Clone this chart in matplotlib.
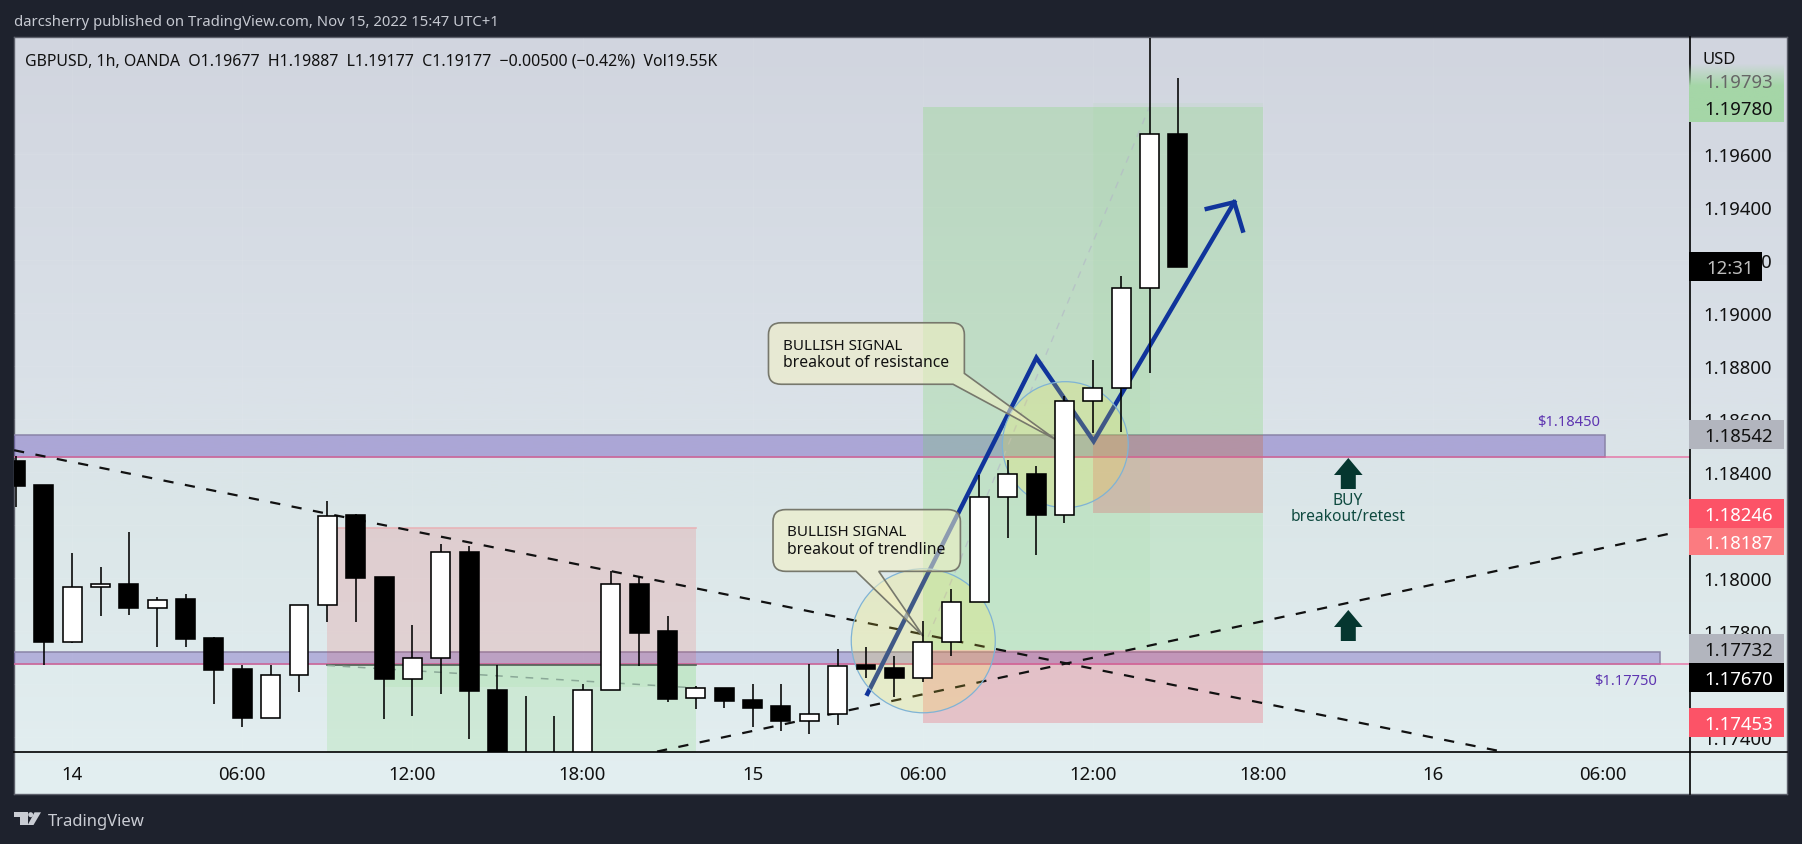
from __future__ import annotations

import matplotlib

matplotlib.use("Agg")
import matplotlib.pyplot as plt
import numpy as np
from matplotlib.colors import to_rgb
from matplotlib.patches import Ellipse, PathPatch, Polygon, Rectangle
from matplotlib.path import Path as MplPath

WIDTH, HEIGHT = 1802, 845
FONT = "Noto Sans"

# GBPUSD 1h candles, hour 0 is the "14" tick
hours = list(range(-2, 40))
opens = [1.18445, 1.18351, 1.17760, 1.17967, 1.17981, 1.17888, 1.17921, 1.17774, 1.17657, 1.17473,
         1.17635, 1.17899, 1.18238, 1.18004, 1.17620, 1.17699, 1.18101, 1.17581, 1.17300, 1.17300,
         1.17300, 1.17579, 1.17981, 1.17800, 1.17548, 1.17588, 1.17540, 1.17517, 1.17463, 1.17489,
         1.17672, 1.17664, 1.17624, 1.17761, 1.17912, 1.18308, 1.18396, 1.18240, 1.18670, 1.18720,
         1.19097, 1.19677]
highs = [1.18464, 1.18351, 1.18098, 1.18045, 1.18177, 1.17931, 1.17942, 1.17781, 1.17673, 1.17673,
         1.17901, 1.18294, 1.18242, 1.18004, 1.17826, 1.18132, 1.18122, 1.17673, 1.17558, 1.17483,
         1.17600, 1.18029, 1.18006, 1.17860, 1.17596, 1.17588, 1.17600, 1.17600, 1.17679, 1.17735,
         1.17743, 1.17706, 1.17840, 1.17962, 1.18392, 1.18449, 1.18426, 1.18688, 1.18823, 1.19143,
         1.20100, 1.19887]
lows = [1.18269, 1.17675, 1.17755, 1.17857, 1.17864, 1.17740, 1.17743, 1.17525, 1.17438, 1.17473,
        1.17570, 1.17834, 1.17834, 1.17468, 1.17483, 1.17566, 1.17396, 1.17250, 1.17250, 1.17250,
        1.17250, 1.17579, 1.17669, 1.17533, 1.17506, 1.17513, 1.17438, 1.17424, 1.17413, 1.17446,
        1.17623, 1.17551, 1.17609, 1.17706, 1.17912, 1.18151, 1.18087, 1.18209, 1.18550, 1.18552,
        1.18776, 1.19177]
closes = [1.18348, 1.17760, 1.17969, 1.17980, 1.17887, 1.17920, 1.17770, 1.17653, 1.17472, 1.17636,
          1.17901, 1.18236, 1.18000, 1.17619, 1.17701, 1.18101, 1.17577, 1.17280, 1.17280, 1.17280,
          1.17580, 1.17980, 1.17796, 1.17547, 1.17587, 1.17536, 1.17513, 1.17462, 1.17489, 1.17670,
          1.17660, 1.17623, 1.17761, 1.17912, 1.18308, 1.18395, 1.18239, 1.18670, 1.18720, 1.19097,
          1.19677, 1.19177]

time_ticks = [0, 6, 12, 18, 24, 30, 36, 42, 48, 54]
time_labels = ["14", "06:00", "12:00", "18:00", "15", "06:00", "12:00", "18:00", "16", "06:00"]
price_ticks = [1.196, 1.194, 1.192, 1.190, 1.188, 1.186, 1.184, 1.182, 1.180, 1.178, 1.176, 1.174]

# trendlines and drawn path, hour / price
trend_down_x, trend_down_y = [-2.05, 50.43], [1.18484, 1.17347]
trend_up_x, trend_up_y = [20.63, 56.64], [1.17347, 1.18176]
path_x, path_y = [28.05, 34.01, 36.03, 40.99], [1.17565, 1.18833, 1.18518, 1.19420]
head_x, head_y = [40.02, 40.99, 41.29], [1.19395, 1.19420, 1.19313]

# position tools: start, end, entry, target, stop
short_pos = (9, 22, 1.17672, 1.17250, 1.18191)
long_a = (30, 42, 1.17732, 1.19780, 1.17453)
long_b = (36, 42, 1.18542, 1.19793, 1.18246)

zone_levels = [(1.18542, 1.18457, 54.06), (1.17723, 1.17677, 56.0)]
pink_levels = [1.18457, 1.17677]

legend_text = "GBPUSD, 1h, OANDA  O1.19677  H1.19887  L1.19177  C1.19177  \u22120.00500 (\u22120.42%)  Vol19.55K"
title_text = "darcsherry published on TradingView.com, Nov 15, 2022 15:47 UTC+1"

HOUR_LEFT, HOUR_RIGHT = (14 - 72.2) / 28.35, (1690 - 72.2) / 28.35
PRICE_TOP, PRICE_BOTTOM = 1.196 + 117 / 26500, 1.196 - 597 / 26500


def _gradient(stops: list[tuple[float, str]], n: int = 256) -> np.ndarray:
    pos = [s[0] for s in stops]
    rgb = np.array([to_rgb(s[1]) for s in stops])
    t = np.linspace(0, 1, n)
    return np.stack([np.interp(t, pos, rgb[:, i]) for i in range(3)], axis=1)[:, None, :]


def _rounded_box(x0, x1, y0, y1, rx, ry, tail_bottom=None, tail_right=None, tip=None):
    # outline of a callout, clockwise from the top left corner; y0 is the top price
    verts = [(x0 + rx, y0), (x1 - rx, y0), (x1, y0), (x1, y0 - ry)]
    codes = [MplPath.MOVETO, MplPath.LINETO, MplPath.CURVE3, MplPath.CURVE3]
    if tail_right is not None:
        verts += [(x1, tail_right[0]), tip, (tail_right[1], y1)]
        codes += [MplPath.LINETO] * 3
    else:
        verts += [(x1, y1 + ry), (x1, y1), (x1 - rx, y1)]
        codes += [MplPath.LINETO, MplPath.CURVE3, MplPath.CURVE3]
    if tail_bottom is not None:
        verts += [(tail_bottom[1], y1), tip, (tail_bottom[0], y1)]
        codes += [MplPath.LINETO] * 3
    verts += [(x0 + rx, y1), (x0, y1), (x0, y1 + ry), (x0, y0 - ry), (x0, y0), (x0 + rx, y0), (x0 + rx, y0)]
    codes += [MplPath.LINETO, MplPath.CURVE3, MplPath.CURVE3, MplPath.LINETO, MplPath.CURVE3, MplPath.CURVE3,
              MplPath.CLOSEPOLY]
    return MplPath(verts, codes)


def _draw_positions(ax: plt.Axes) -> None:
    green = (100 / 255, 215 / 255, 80 / 255)
    red = (240 / 255, 70 / 255, 90 / 255)

    x0, x1, entry, target, stop = short_pos
    ax.add_patch(Rectangle((x0, entry), x1 - x0, stop - entry, fc=(240 / 255, 80 / 255, 80 / 255, 0.16), ec="none", zorder=1))
    ax.add_patch(Rectangle((x0, target), x1 - x0, entry - target, fc=(*green, 0.15), ec="none", zorder=1))
    ax.add_patch(Rectangle((11, 1.17590), x1 - 11, entry - 1.17590, fc=(*green, 0.08), ec="none", zorder=1))
    ax.plot([x0, x1], [entry, entry], color="#4f5f55", lw=1.2, zorder=2.6)
    ax.plot([x0, x1], [stop, stop], color="#e8b4b8", lw=1.2, zorder=1)
    ax.plot([x0, x1], [entry, 1.17587], color="#8aa897", lw=1.1, ls=(0, (5, 5)), zorder=2.7)

    for (x0, x1, entry, target, stop), alpha in zip((long_a, long_b), (0.17, 0.05)):
        ax.add_patch(Rectangle((x0, entry), x1 - x0, target - entry, fc=(*green, alpha), ec="none", zorder=1))
        ax.add_patch(Rectangle((x0, stop), x1 - x0, entry - stop, fc=(*red, 0.25), ec="none", zorder=1))
    x0, _, entry, target, _ = long_a
    ax.add_patch(Rectangle((x0, entry), 8, target - entry, fc=(*green, 0.05), ec="none", zorder=1))
    ax.plot([x0, 38], [entry, target], color="#b4bac6", lw=1.0, alpha=0.7, ls=(0, (5, 5)), zorder=1.5)


def _draw_candles(ax: plt.Axes) -> None:
    for h, o, hi, lo, c in zip(hours, opens, highs, lows, closes):
        ax.vlines(h, lo, hi, color="black", lw=1.15, zorder=7)
        up = c >= o
        ax.bar(h, abs(c - o), bottom=min(o, c), width=0.67, color="white" if up else "black",
               edgecolor="black", linewidth=1.15, zorder=7.5)


def _draw_notes(ax: plt.Axes) -> None:
    box_fc = (244 / 255, 241 / 255, 195 / 255, 0.55)
    resist = _rounded_box(24.56, 31.47, 1.18965, 1.18733, 0.45, 0.00045,
                          tail_right=(1.18774, 31.07), tip=(34.68, 1.18525))
    trend = _rounded_box(24.72, 31.33, 1.18260, 1.18027, 0.45, 0.00045,
                         tail_bottom=(27.65, 28.45), tip=(30.02, 1.17782))
    for path in (resist, trend):
        ax.add_patch(PathPatch(path, fc=box_fc, ec="#77786c", lw=1.2, zorder=6))
    for h, p1, p2, line in ((25.07, 1.18881, 1.18817, "breakout of resistance"),
                            (25.2, 1.18176, 1.18112, "breakout of trendline")):
        ax.text(h, p1, "BULLISH SIGNAL", fontsize=10.9, family=FONT, color="#111", va="center", zorder=6.5)
        ax.text(h, p2, line, fontsize=11.3, family=FONT, color="#111", va="center", zorder=6.5)

    for cx, cy, w, h in ((30.02, 1.17765, 5.08, 0.005434), (35.03, 1.18505, 4.44, 0.004755)):
        ax.add_patch(Ellipse((cx, cy), w, h, fc=(255 / 255, 235 / 255, 59 / 255, 0.2), ec="#7fb3d5", lw=0.9, zorder=5))


def _draw_overlay(ov: plt.Axes) -> None:
    # price scale furniture and page text, laid out in pixels
    ov.plot([1689.5, 1689.5], [38, 795], color="black", lw=1.2)
    ov.plot([14, 1787], [752.5, 752.5], color="black", lw=1.2)

    ov.text(14, 23, title_text, color="#c6c9d1", fontsize=10.7, family=FONT, va="center")
    ov.text(25, 61, legend_text, color="#111", fontsize=11.45, family=FONT, va="center")
    ov.text(1703, 60, "USD", color="#111", fontsize=12, family=FONT, va="center")

    # green target badge fades out at the top
    fade = np.zeros((64, 1, 4))
    fade[:, :, :3] = to_rgb("#a5d6a7")
    fade[:, 0, 3] = np.clip(np.linspace(0, 1, 64) * 2.6, 0, 1)
    ov.imshow(fade, extent=(1689, 1784, 123, 64), aspect="auto", zorder=2)
    ov.set_xlim(0, WIDTH)
    ov.set_ylim(HEIGHT, 0)

    ov.text(1773, 82.5, "1.19793", color="#666", fontsize=13.4, family=FONT, ha="right", va="center", zorder=3)
    ov.text(1773, 110, "1.19780", color="#111", fontsize=13.4, family=FONT, ha="right", va="center", zorder=3)

    badges = [
        ("12:31", 253, 282, 1762, "black", "#bdbdbd"),
        ("1.18542", 421, 450, 1784, "#b2b5be", "#111"),
        ("1.18246", 500, 529, 1784, "#fc5367", "white"),
        ("1.18187", 529, 556, 1784, "#fb7b80", "white"),
        ("1.17732", 635, 664, 1784, "#b2b5be", "#111"),
        ("1.17670", 664, 693, 1784, "black", "white"),
        ("1.17453", 709, 738, 1784, "#fc5367", "white"),
    ]
    for label, top, bottom, right, fc, tc in badges:
        ov.add_patch(Rectangle((1689, top), right - 1689, bottom - top, fc=fc, ec="none", zorder=2))
        mid = (top + bottom) / 2 + 1.5
        if label == "12:31":
            ov.text(1730, mid, label, color=tc, fontsize=13.4, family=FONT, ha="center", va="center", zorder=3)
        else:
            ov.text(1773, mid, label, color=tc, fontsize=13.4, family=FONT, ha="right", va="center", zorder=3)

    ov.text(1569, 422.5, "$1.18450", color="#5e35b1", fontsize=10.6, family=FONT, ha="center", va="center")
    ov.text(1626, 681.5, "$1.17750", color="#5e35b1", fontsize=10.6, family=FONT, ha="center", va="center")

    # buy arrows
    for tip in (459, 611):
        ov.add_patch(Polygon([(1348.3, tip), (1362.6, tip + 17), (1355.8, tip + 17), (1355.8, tip + 31),
                              (1340.8, tip + 31), (1340.8, tip + 17), (1334, tip + 17)],
                             fc="#05362f", ec="none"))
    ov.text(1348, 501, "BUY", color="#0f4a40", fontsize=11.2, family=FONT, ha="center", va="center")
    ov.text(1348, 517, "breakout/retest", color="#0f4a40", fontsize=11.2, family=FONT, ha="center", va="center")

    # logo
    logo = "#c9ccd3"
    ov.add_patch(Polygon([(14, 813.3), (27.7, 813.3), (27.7, 826), (20, 826), (20, 818.3), (14, 818.3)], fc=logo, ec="none"))
    ov.add_patch(Ellipse((30.7, 815.7), 5, 5, fc=logo, ec="none"))
    ov.add_patch(Polygon([(34.5, 813.3), (41, 813.3), (33.5, 826), (27.7, 826)], fc=logo, ec="none"))
    ov.text(47.5, 822, "TradingView", color=logo, fontsize=12, family=FONT, weight="medium", va="center")


def main() -> None:
    fig = plt.figure(figsize=(WIDTH / 100, HEIGHT / 100), dpi=100, facecolor="#1e222d")

    bg = fig.add_axes([14 / WIDTH, 1 - 795 / HEIGHT, (1787 - 14) / WIDTH, (795 - 38) / HEIGHT], zorder=0)
    bg.imshow(_gradient([(0, "#d1d5df"), (0.45, "#dae1e8"), (0.62, "#dbe6e8"), (1, "#e3eff1")]), aspect="auto")
    bg.set_xticks([])
    bg.set_yticks([])
    for spine in bg.spines.values():
        spine.set_color("#5d606b")
        spine.set_linewidth(1.0)

    ax = fig.add_axes([14 / WIDTH, 1 - 752.5 / HEIGHT, (1690 - 14) / WIDTH, 714 / HEIGHT], zorder=1)
    ax.patch.set_alpha(0)
    ax.set_xlim(HOUR_LEFT, HOUR_RIGHT)
    ax.set_ylim(PRICE_BOTTOM, PRICE_TOP)
    for spine in ax.spines.values():
        spine.set_visible(False)
    ax.yaxis.tick_right()
    ax.set_xticks(time_ticks)
    ax.set_xticklabels(time_labels, family=FONT, fontsize=13.4, color="#111")
    ax.set_yticks(price_ticks)
    ax.set_yticklabels([f"{p:.5f}" for p in price_ticks], family=FONT, fontsize=13.4, color="#111")
    ax.tick_params(axis="x", length=0, pad=9.5)
    ax.tick_params(axis="y", length=0, pad=10)
    ax.grid(color="white", alpha=0.06, lw=0.8)
    ax.set_axisbelow(True)

    for (top, bottom, right), alpha in zip(zone_levels, (0.48, 0.42)):
        ax.add_patch(Rectangle((HOUR_LEFT - 1, bottom), right - HOUR_LEFT + 1, top - bottom,
                               fc=(120 / 255, 100 / 255, 195 / 255, alpha), ec="#8a84a8", lw=1.1, zorder=0.9))

    _draw_positions(ax)

    for level in pink_levels:
        ax.axhline(level, color="#e7609a", alpha=0.75, lw=1.2, zorder=2.5)

    dash = (0, (4.6, 5.2))
    ax.plot(trend_down_x, trend_down_y, color="#111", lw=1.6, ls=dash, zorder=3)
    ax.plot(trend_up_x, trend_up_y, color="#111", lw=1.6, ls=dash, zorder=3)
    ax.plot(path_x, path_y, color="#10349b", lw=3.2, solid_joinstyle="miter", zorder=4)
    ax.plot(head_x, head_y, color="#10349b", lw=3.2, solid_joinstyle="miter", zorder=4)

    _draw_notes(ax)
    _draw_candles(ax)

    ov = fig.add_axes([0, 0, 1, 1], zorder=5)
    ov.patch.set_alpha(0)
    ov.axis("off")
    ov.set_xlim(0, WIDTH)
    ov.set_ylim(HEIGHT, 0)
    _draw_overlay(ov)

    fig.savefig("out.png", dpi=100, facecolor=fig.get_facecolor())
    plt.close(fig)


if __name__ == "__main__":
    main()
